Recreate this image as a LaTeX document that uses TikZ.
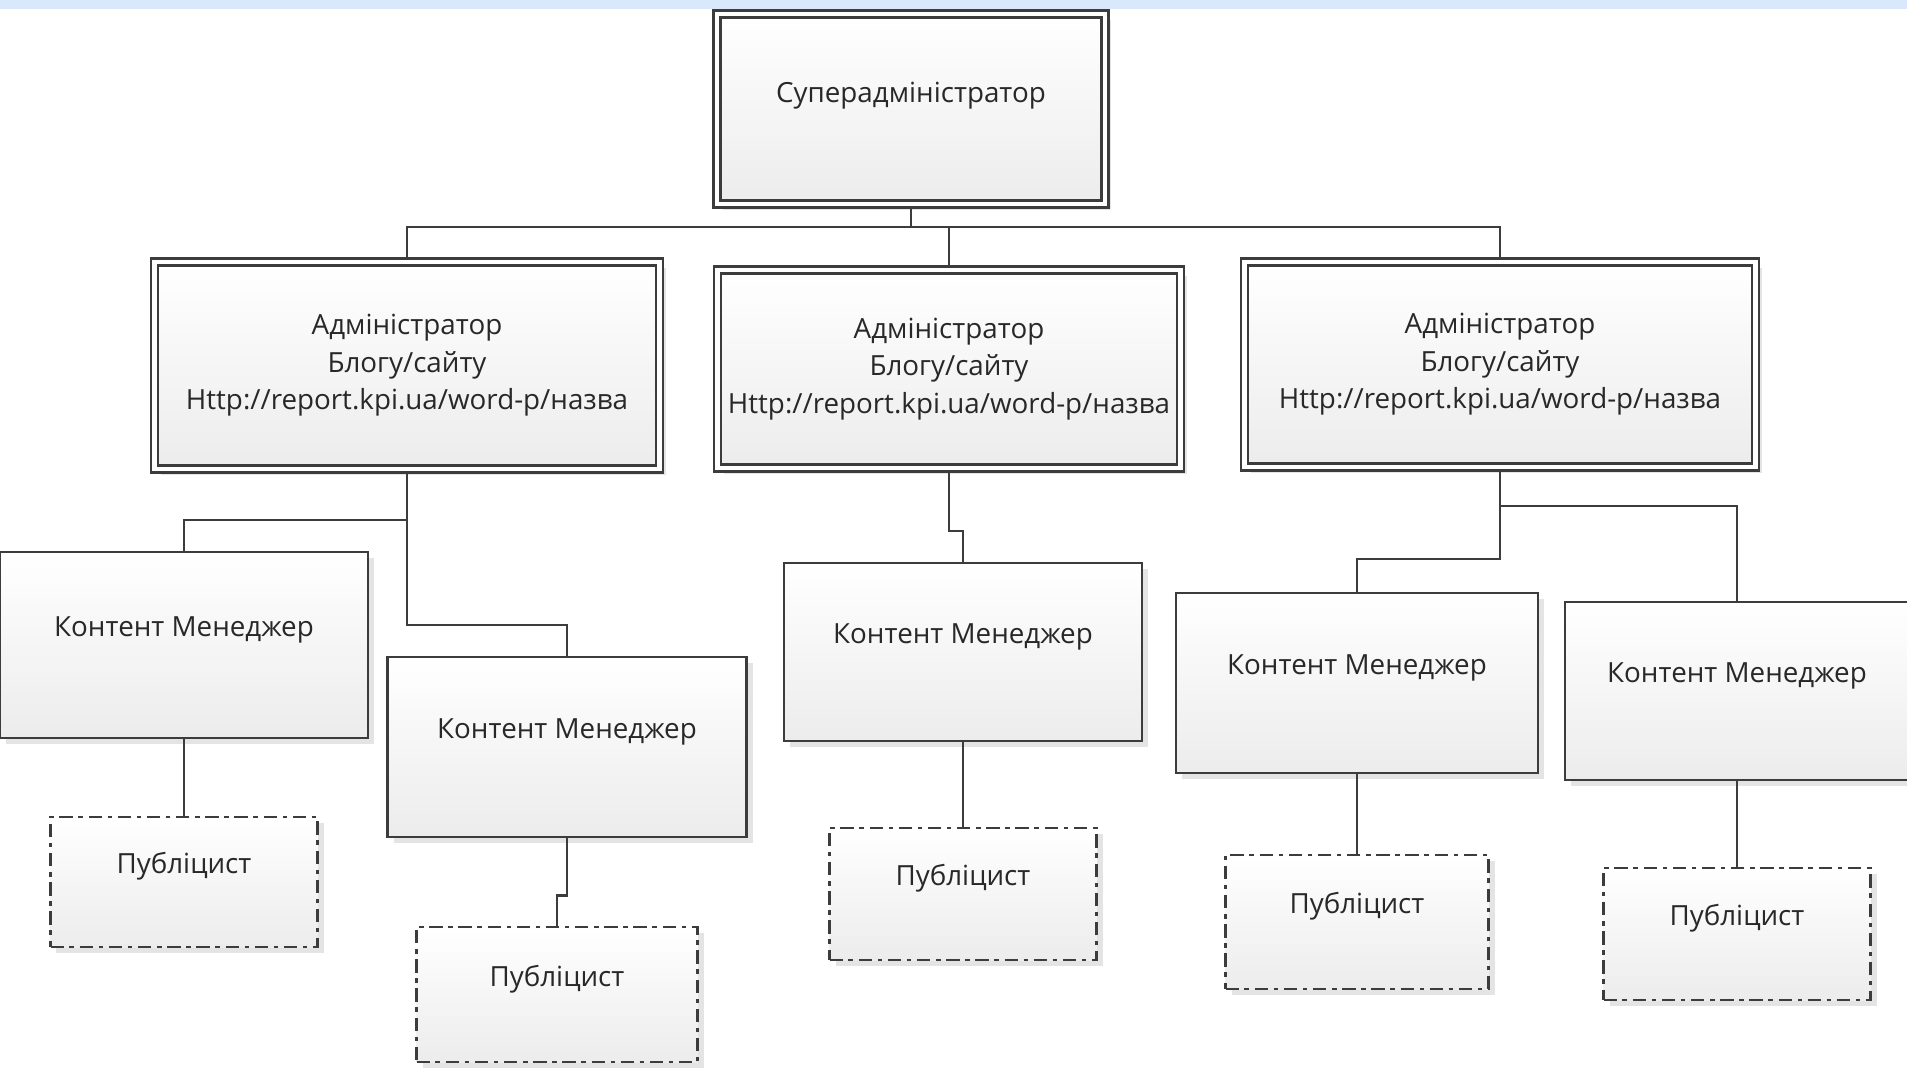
\documentclass[tikz,border=0pt]{standalone}
\usepackage{fontspec}
\setmainfont{Open Sans}
\usepackage{tikz}
\usetikzlibrary{shadows}
\definecolor{linegray}{RGB}{60,60,60}
\definecolor{boxgray}{RGB}{236,236,236}
\definecolor{textgray}{RGB}{40,40,40}
\definecolor{bandblue}{RGB}{217,232,250}
\definecolor{shadowgray}{RGB}{228,228,228}

\begin{document}
\begin{tikzpicture}[x=1cm,y=1cm,font=\fontsize{7.9pt}{10.7pt}\selectfont]
  \tikzstyle{box}=[draw=linegray,line width=0.72pt,rectangle,top color=white,bottom color=boxgray,
    drop shadow={shadow xshift=0.06cm,shadow yshift=-0.06cm,fill=shadowgray,opacity=1},
    align=center,text=textgray,inner sep=0pt]
  \tikzstyle{dblbox}=[box,double=white,double distance=0.045cm,outer sep=0.05cm]
  \tikzstyle{manager}=[box,minimum width=3.6cm,minimum height=1.8cm,text height=0.2cm,text depth=0.37cm]
  \tikzstyle{writer}=[manager,minimum width=2.67cm,minimum height=1.32cm,
    dash pattern=on 3.8pt off 1.6pt on 1.3pt off 1.6pt]
  \tikzstyle{conn}=[draw=linegray,line width=0.72pt]

  \useasboundingbox (0,0) rectangle (19.07,-10.68);
  \fill[bandblue] (0,0) rectangle (19.07,-0.09);

  % Top
  \node[dblbox,minimum width=3.88cm,minimum height=1.9cm,text height=0.2cm,text depth=0.34cm] (sa) at (9.11,-1.09) {Суперадміністратор};

  % Admins
  \node[dblbox,minimum width=5.05cm,minimum height=2.07cm] (ad1) at (4.07,-3.655)
    {Адміністратор\\Блогу/сайту\\Http://report.kpi.ua/word-p/назва};
  \node[dblbox,minimum width=4.63cm,minimum height=1.98cm] (ad2) at (9.49,-3.69)
    {Адміністратор\\Блогу/сайту\\Http://report.kpi.ua/word-p/назва};
  \node[dblbox,minimum width=5.11cm,minimum height=2.05cm] (ad3) at (15.0,-3.645)
    {Адміністратор\\Блогу/сайту\\Http://report.kpi.ua/word-p/назва};

  % Content managers
  \node[manager,minimum width=3.68cm,minimum height=1.86cm] (cm1) at (1.84,-6.45) {Контент Менеджер};
  \node[manager,minimum width=3.59cm] (cm2) at (5.67,-7.47) {Контент Менеджер};
  \node[manager,minimum width=3.58cm,minimum height=1.78cm] (cm3) at (9.63,-6.52) {Контент Менеджер};
  \node[manager,minimum width=3.62cm] (cm4) at (13.57,-6.83) {Контент Менеджер};
  \node[manager,minimum width=3.44cm,minimum height=1.78cm] (cm5) at (17.37,-6.91) {Контент Менеджер};

  % Publicists
  \node[writer,minimum height=1.30cm] (pub1) at (1.84,-8.82) {Публіцист};
  \node[writer,minimum width=2.81cm,minimum height=1.35cm] (pub2) at (5.57,-9.945) {Публіцист};
  \node[writer] (pub3) at (9.63,-8.94) {Публіцист};
  \node[writer,minimum width=2.63cm,minimum height=1.34cm] (pub4) at (13.57,-9.22) {Публіцист};
  \node[writer] (pub5) at (17.37,-9.34) {Публіцист};

  % Links
  \draw[conn] (sa.south) -- ++(0,-0.18) -| (ad1.north);
  \draw[conn] (sa.south) -- ++(0,-0.18) -| (ad2.north);
  \draw[conn] (sa.south) -- ++(0,-0.18) -| (ad3.north);

  \draw[conn] (ad1.south) -- ++(0,-0.46) -| (cm1.north);
  \draw[conn] (ad1.south) -- ++(0,-1.51) -| (cm2.north);
  \draw[conn] (ad2.south) -- ++(0,-0.58) -| (cm3.north);
  \draw[conn] (ad3.south) -- ++(0,-0.34) -| (cm5.north);
  \draw[conn] (ad3.south) -- ++(0,-0.87) -| (cm4.north);

  \draw[conn] (cm1.south) -- (pub1.north);
  \draw[conn] (cm2.south) -- ++(0,-0.57) -| (pub2.north);
  \draw[conn] (cm3.south) -- (pub3.north);
  \draw[conn] (cm4.south) -- (pub4.north);
  \draw[conn] (cm5.south) -- (pub5.north);
\end{tikzpicture}
\end{document}
